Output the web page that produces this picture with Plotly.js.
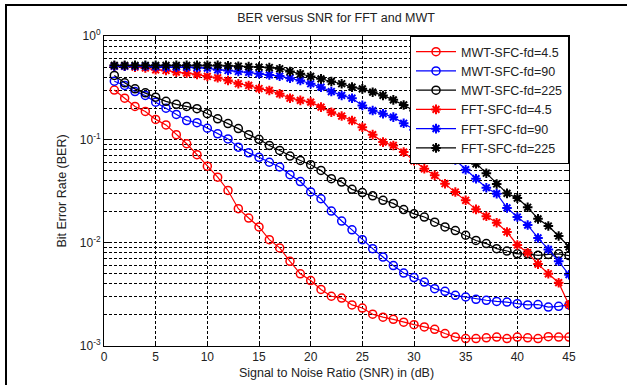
<!DOCTYPE html>
<html>
<head>
<meta charset="utf-8">
<script src="https://cdn.plot.ly/plotly-3.0.1.min.js"></script>
<style>
  html, body { margin: 0; padding: 0; background: #fff; }
  #wrap { position: relative; width: 627px; height: 385px; overflow: hidden; }
  #chart { position: absolute; left: 0; top: 0; width: 627px; height: 385px; }
  #frame { position: absolute; left: 5px; top: 4px; width: 640px; height: 400px;
           border-left: 2px solid #000; border-top: 2px solid #000; pointer-events: none; }
</style>
</head>
<body>
<div id="wrap"><div id="chart"></div><div id="frame"></div></div>
<script>
// SNR (dB)
var snr = [1,2,3,4,5,6,7,8,9,10,11,12,13,14,15,16,17,18,19,20,21,22,23,24,25,26,27,28,29,30,31,32,33,34,35,36,37,38,39,40,41,42,43,44,45];

// MWT-SFC-fd=4.5
var mwt45 = [0.30,0.25,0.208,0.186,0.156,0.138,0.111,0.0906,0.071,0.055,0.043,0.032,0.0213,0.0173,0.0142,0.0107,0.0089,0.0066,0.0050,0.0043,0.00353,0.00303,0.00291,0.0025,0.00233,0.00203,0.0019,0.00181,0.0017,0.00161,0.00153,0.00145,0.00132,0.00122,0.00118,0.00118,0.0012,0.00122,0.00118,0.00122,0.0012,0.00118,0.00123,0.00122,0.00122];
// MWT-SFC-fd=90
var mwt90 = [0.365,0.332,0.29,0.266,0.229,0.2,0.174,0.152,0.145,0.128,0.113,0.101,0.084,0.074,0.067,0.060,0.054,0.0455,0.039,0.031,0.0266,0.0202,0.0162,0.0133,0.0107,0.00875,0.00726,0.006,0.00508,0.0046,0.00416,0.00359,0.00338,0.00309,0.00298,0.00283,0.00277,0.0027,0.00266,0.00257,0.0025,0.00252,0.00238,0.00242,0.0025];
// MWT-SFC-fd=225
var mwt225 = [0.415,0.352,0.308,0.282,0.256,0.233,0.218,0.208,0.198,0.177,0.158,0.142,0.127,0.111,0.100,0.0873,0.078,0.0689,0.0625,0.0568,0.05,0.0416,0.0386,0.0328,0.0305,0.0284,0.0257,0.024,0.0209,0.019,0.0177,0.0158,0.0142,0.0131,0.0118,0.0105,0.0098,0.00875,0.0083,0.0078,0.0078,0.00754,0.0077,0.0078,0.0075];
// FFT-SFC-fd=4.5
var fft45 = [0.51,0.51,0.50,0.49,0.471,0.464,0.447,0.437,0.425,0.406,0.394,0.371,0.345,0.332,0.31,0.297,0.276,0.25,0.238,0.229,0.205,0.183,0.168,0.152,0.131,0.111,0.094,0.0873,0.0752,0.062,0.0519,0.0448,0.0372,0.0309,0.0257,0.021,0.018,0.0156,0.0127,0.0095,0.008,0.0062,0.0050,0.0041,0.0025];
// FFT-SFC-fd=90
var fft90 = [0.51,0.51,0.51,0.51,0.505,0.50,0.50,0.50,0.495,0.489,0.471,0.464,0.454,0.445,0.431,0.42,0.409,0.391,0.371,0.345,0.32,0.29,0.266,0.25,0.213,0.19,0.177,0.164,0.143,0.124,0.108,0.093,0.078,0.063,0.0508,0.0416,0.034,0.0298,0.0217,0.0177,0.0148,0.0111,0.0086,0.0066,0.0049];
// FFT-SFC-fd=225
var fft225 = [0.52,0.52,0.52,0.52,0.52,0.52,0.52,0.52,0.52,0.52,0.52,0.515,0.51,0.505,0.50,0.495,0.482,0.454,0.431,0.406,0.385,0.363,0.345,0.32,0.308,0.286,0.266,0.241,0.215,0.19,0.165,0.14,0.115,0.092,0.0727,0.058,0.047,0.037,0.030,0.027,0.022,0.017,0.0145,0.0116,0.0091];

var seriesNames = ['MWT-SFC-fd=4.5','MWT-SFC-fd=90','MWT-SFC-fd=225','FFT-SFC-fd=4.5','FFT-SFC-fd=90','FFT-SFC-fd=225'];
var seriesData = [mwt45, mwt90, mwt225, fft45, fft90, fft225];
var seriesColors = ['#ff0000','#0000ff','#000000','#ff0000','#0000ff','#000000'];

var yTickVals = [1, 0.1, 0.01, 0.001];
var yTickText = ['10<sup>0</sup>','10<sup>-1</sup>','10<sup>-2</sup>','10<sup>-3</sup>'];
var xTickVals = [0,5,10,15,20,25,30,35,40,45];

var minorVals = [];
[0.001, 0.01, 0.1].forEach(function (d) {
  for (var k = 2; k <= 9; k++) minorVals.push(k * d);
});

var traces = seriesData.map(function (ys, i) {
  var isCircle = i < 3;
  return {
    x: snr, y: ys, name: seriesNames[i], type: 'scatter', mode: 'lines+markers',
    line: { color: seriesColors[i], width: 1.2 },
    marker: isCircle
      ? { symbol: 'circle-open', size: 8, color: seriesColors[i], line: { width: 1.5, color: seriesColors[i] } }
      : { symbol: 'asterisk-open', size: 8, color: seriesColors[i], line: { width: 2, color: seriesColors[i] } }
  };
});

var layout = {
  width: 627, height: 385,
  margin: { l: 104, r: 58, t: 36, b: 39, pad: 0 },
  paper_bgcolor: '#ffffff', plot_bgcolor: '#ffffff',
  font: { family: 'Liberation Sans, Arial, sans-serif', size: 12, color: '#222' },
  title: { text: 'BER versus SNR for FFT and MWT', font: { size: 12.5, color: '#222' },
           x: 0.536, xanchor: 'center', y: 0.955, yanchor: 'middle', yref: 'container' },
  showlegend: true,
  legend: { x: 1, xanchor: 'right', y: 1, yanchor: 'top', bgcolor: '#ffffff',
            bordercolor: '#000', borderwidth: 1, font: { size: 12.5, color: '#222' },
            tracegroupgap: 0, itemwidth: 40 },
  xaxis: {
    range: [0, 45], tickmode: 'array', tickvals: xTickVals,
    showline: true, linecolor: '#000', linewidth: 1, mirror: 'allticks',
    ticks: 'inside', ticklen: 5, tickcolor: '#000',
    showgrid: true, gridcolor: '#000', gridwidth: 1, griddash: '3px,2px',
    zeroline: false, tickfont: { size: 12 },
    title: { text: 'Signal to Noise Ratio (SNR) in (dB)', font: { size: 12.5 }, standoff: 4 }
  },
  yaxis: {
    type: 'log', range: [-3, 0], tickmode: 'array', tickvals: yTickVals, ticktext: yTickText,
    showline: true, linecolor: '#000', linewidth: 1, mirror: 'allticks',
    ticks: 'inside', ticklen: 5, tickcolor: '#000',
    showgrid: true, gridcolor: '#000', gridwidth: 1, griddash: '3px,2px',
    zeroline: false, tickfont: { size: 12 },
    minor: { tickmode: 'array', tickvals: minorVals, showgrid: true, gridcolor: '#000',
             gridwidth: 1, griddash: '3px,2px', ticks: 'inside', ticklen: 3, tickcolor: '#000' },
    title: { text: 'Bit Error Rate (BER)', font: { size: 12.5 }, standoff: 10 }
  }
};

Plotly.newPlot('chart', traces, layout, { displayModeBar: false, staticPlot: true });
</script>
</body>
</html>
